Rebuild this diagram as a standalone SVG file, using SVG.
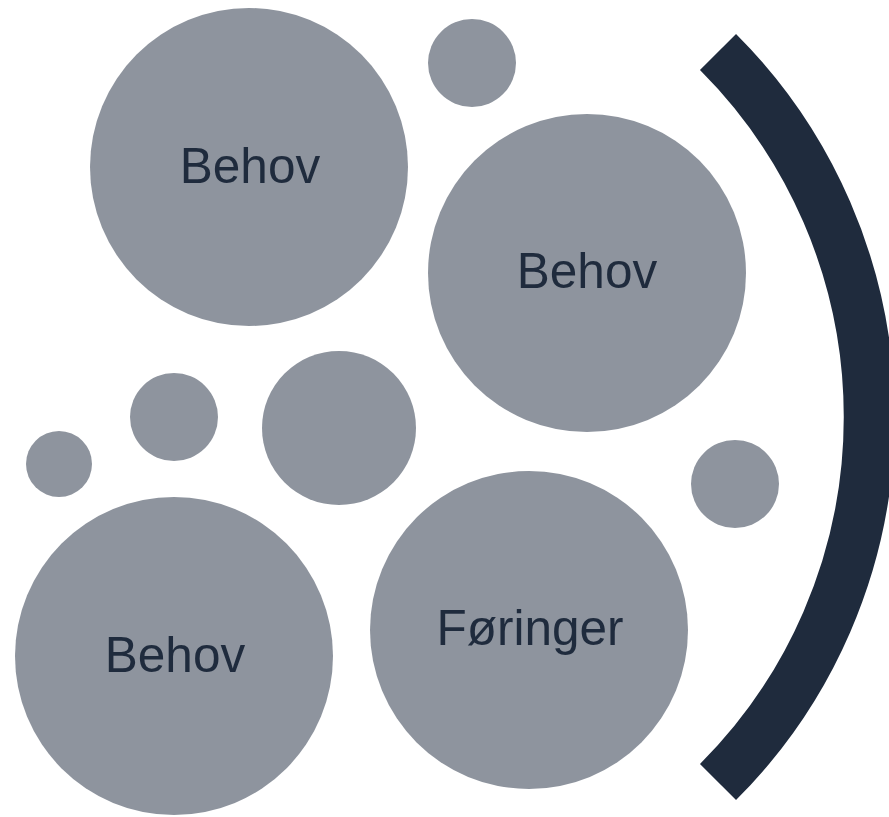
<svg xmlns="http://www.w3.org/2000/svg" width="889" height="817" viewBox="0 0 889 817">
<style>
.c{fill:#8E949E}
.t{font-family:"Liberation Sans",Arial,sans-serif;font-size:49.5px;fill:#1F2B3D;text-anchor:middle}
</style>
<rect width="889" height="817" fill="#fff"/>
<g id="arc"><path d="M718 52 A516 516 0 0 1 718 782" fill="none" stroke="#1F2B3D" stroke-width="51"/></g>
<g id="dot1"><circle class="c" cx="472" cy="63" r="44"/></g>
<g id="dot2"><circle class="c" cx="174" cy="417" r="44"/></g>
<g id="dot3"><circle class="c" cx="59" cy="464" r="33"/></g>
<g id="dot4"><circle class="c" cx="339" cy="428" r="77"/></g>
<g id="dot5"><circle class="c" cx="735" cy="484" r="44"/></g>
<g id="behov1"><circle class="c" cx="249" cy="167" r="159"/><text class="t" x="250" y="183">Behov</text></g>
<g id="behov2"><circle class="c" cx="587" cy="273" r="159"/><text class="t" x="587" y="288">Behov</text></g>
<g id="behov3"><circle class="c" cx="174" cy="656" r="159"/><text class="t" x="175" y="672">Behov</text></g>
<g id="foringer"><circle class="c" cx="529" cy="630" r="159"/><text class="t" x="530" y="645">Føringer</text></g>
</svg>
